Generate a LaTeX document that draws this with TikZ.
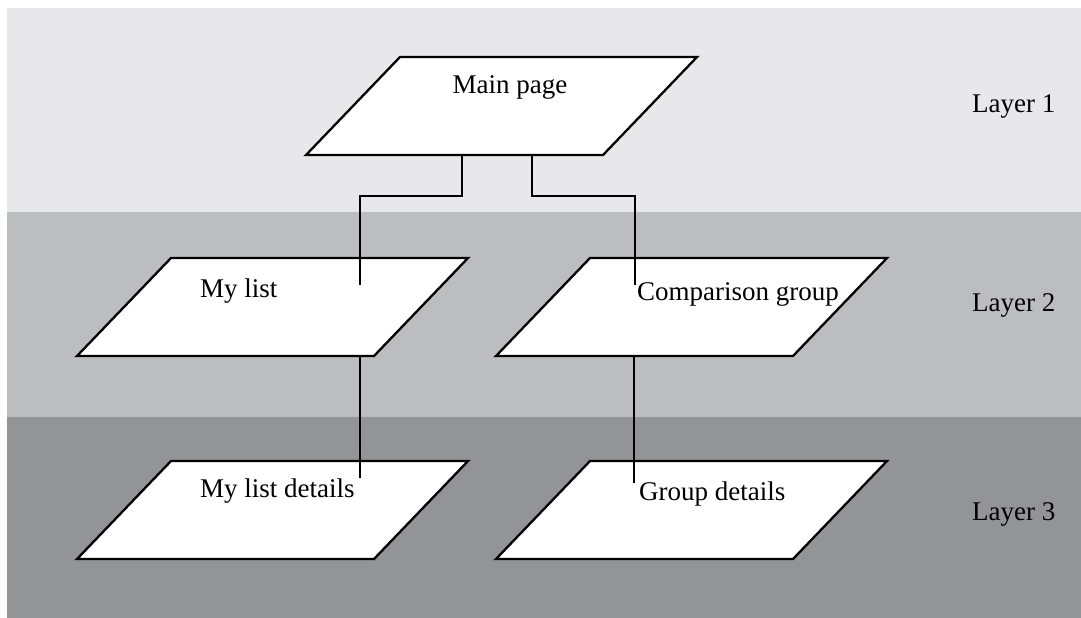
\documentclass[tikz,border=0pt]{standalone}
\usepackage{fontspec}
\setmainfont{Liberation Serif}
\definecolor{bandA}{HTML}{E8E8EA}
\definecolor{bandB}{HTML}{BCBDC1}
\definecolor{bandC}{HTML}{939498}
\begin{document}
\begin{tikzpicture}[x=1pt,y=-1pt,
  plane/.style={draw=black,fill=white,line width=2.3pt,line join=miter},
  link/.style={draw=black,line width=2.3pt},
  lbl/.style={inner sep=0pt,font=\fontsize{27}{30}\selectfont}]
\useasboundingbox (0,0) rectangle (1081,618);
\fill[white] (0,0) rectangle (1081,618);
% bands
\fill[bandA] (7,8) rectangle (1081,212);
\fill[bandB] (7,212) rectangle (1081,417);
\fill[bandC] (7,417) rectangle (1081,618);
% planes (top-left corners)
\coordinate (mainTL) at (400,57);
\coordinate (listTL) at (171,258);
\coordinate (compTL) at (590,258);
\coordinate (listdTL) at (171,461);
\coordinate (groupTL) at (590,461);
\foreach \c in {mainTL,listTL,compTL,listdTL,groupTL}{
  \draw[plane] (\c) -- ++(297,0) -- ++(-94,98) -- ++(-297,0) -- cycle;
}
% labels
\node[lbl,anchor=base] (main) at (510,93) {Main page};
\node[lbl,anchor=base west] (list) at (200,297) {My list};
\node[lbl,anchor=base west] (comp) at (637,300) {Comparison group};
\node[lbl,anchor=base west] (listd) at (200,497) {My list details};
\node[lbl,anchor=base west] (group) at (639,500) {Group details};
\node[lbl,anchor=base west] (l1) at (972,112) {Layer 1};
\node[lbl,anchor=base west] (l2) at (972,311) {Layer 2};
\node[lbl,anchor=base west] (l3) at (972,520) {Layer 3};
% connector end points
\coordinate (mainL) at (462,155);
\coordinate (mainR) at (532,155);
\coordinate (listIn) at (360,285);
\coordinate (compIn) at (635,285);
\coordinate (listOut) at (360,355);
\coordinate (listdIn) at (360,478);
\coordinate (compOut) at (634,355);
\coordinate (groupIn) at (634,483);
\draw[link] (mainL) -- ++(0,41) -| (listIn);
\draw[link] (mainR) -- ++(0,41) -| (compIn);
\draw[link] (listOut) -- (listdIn);
\draw[link] (compOut) -- (groupIn);
\end{tikzpicture}
\end{document}
